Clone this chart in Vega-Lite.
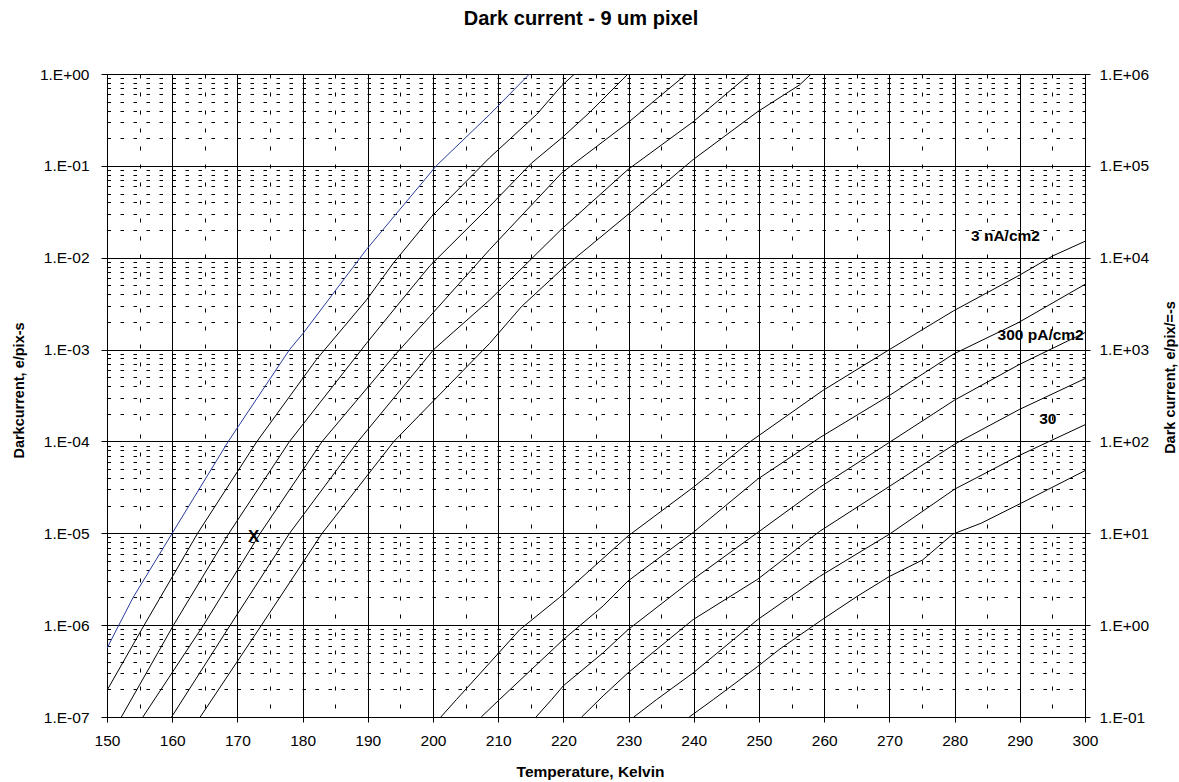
{
  "$schema": "https://vega.github.io/schema/vega-lite/v6.json",
  "width": 978,
  "height": 643,
  "autosize": {"type": "none"},
  "padding": {"left": 107, "top": 74, "right": 94, "bottom": 65},
  "background": "white",
  "config": {
    "font": "Liberation Sans",
    "view": {"stroke": "black", "strokeWidth": 1},
    "axis": {
      "labelFont": "Liberation Sans",
      "labelFontSize": 15.5,
      "labelColor": "black",
      "tickColor": "black",
      "domainColor": "black",
      "gridColor": "black",
      "gridOpacity": 1,
      "gridWidth": 1,
      "titleFont": "Liberation Sans",
      "titleFontSize": 14.5,
      "titleFontWeight": "bold",
      "titleColor": "black"
    }
  },
  "title": {
    "text": "Dark current - 9 um pixel",
    "font": "Liberation Sans",
    "fontSize": 20,
    "fontWeight": "bold",
    "color": "black",
    "anchor": "middle",
    "frame": "group",
    "baseline": "alphabetic",
    "dx": -15,
    "offset": 22
  },
  "datasets": {
    "steep": [
      {"curve": "a0", "temp": 150, "rate": 5.62e-7},
      {"curve": "a0", "temp": 154, "rate": 2.0e-6},
      {"curve": "a0", "temp": 160, "rate": 1.0e-5},
      {"curve": "a0", "temp": 168.6, "rate": 1.0e-4},
      {"curve": "a0", "temp": 178, "rate": 1.0e-3},
      {"curve": "a0", "temp": 180.1, "rate": 1.51e-3},
      {"curve": "a0", "temp": 189.8, "rate": 1.23e-2},
      {"curve": "a0", "temp": 200.5, "rate": 0.1},
      {"curve": "a0", "temp": 208.7, "rate": 0.363},
      {"curve": "a0", "temp": 214.8, "rate": 1.0},

      {"curve": "a1", "temp": 150, "rate": 1.95e-7},
      {"curve": "a1", "temp": 155.7, "rate": 1e-6},
      {"curve": "a1", "temp": 163.9, "rate": 1e-5},
      {"curve": "a1", "temp": 173, "rate": 1e-4},
      {"curve": "a1", "temp": 182.1, "rate": 7.76e-4},
      {"curve": "a1", "temp": 189.8, "rate": 3.47e-3},
      {"curve": "a1", "temp": 193.9, "rate": 8.71e-3},
      {"curve": "a1", "temp": 199.8, "rate": 2.82e-2},
      {"curve": "a1", "temp": 208.7, "rate": 0.123},
      {"curve": "a1", "temp": 215.9, "rate": 0.363},
      {"curve": "a1", "temp": 219.7, "rate": 0.741},
      {"curve": "a1", "temp": 221.7, "rate": 1.0},

      {"curve": "a2", "temp": 152.2, "rate": 1e-7},
      {"curve": "a2", "temp": 160.2, "rate": 1e-6},
      {"curve": "a2", "temp": 168.7, "rate": 1e-5},
      {"curve": "a2", "temp": 178, "rate": 1e-4},
      {"curve": "a2", "temp": 189.8, "rate": 1.17e-3},
      {"curve": "a2", "temp": 194.4, "rate": 2.95e-3},
      {"curve": "a2", "temp": 199.5, "rate": 8.13e-3},
      {"curve": "a2", "temp": 208.7, "rate": 3.63e-2},
      {"curve": "a2", "temp": 215.1, "rate": 0.107},
      {"curve": "a2", "temp": 219.7, "rate": 0.2},
      {"curve": "a2", "temp": 224, "rate": 0.38},
      {"curve": "a2", "temp": 229.9, "rate": 1.0},

      {"curve": "a3", "temp": 155.5, "rate": 1e-7},
      {"curve": "a3", "temp": 164.8, "rate": 1e-6},
      {"curve": "a3", "temp": 173.5, "rate": 1e-5},
      {"curve": "a3", "temp": 183, "rate": 1e-4},
      {"curve": "a3", "temp": 194.4, "rate": 9.12e-4},
      {"curve": "a3", "temp": 199.5, "rate": 2.29e-3},
      {"curve": "a3", "temp": 208.7, "rate": 1.23e-2},
      {"curve": "a3", "temp": 219.7, "rate": 8.32e-2},
      {"curve": "a3", "temp": 229.9, "rate": 0.295},
      {"curve": "a3", "temp": 238.9, "rate": 1.0},

      {"curve": "a4", "temp": 159.9, "rate": 1e-7},
      {"curve": "a4", "temp": 168.9, "rate": 1e-6},
      {"curve": "a4", "temp": 178, "rate": 1e-5},
      {"curve": "a4", "temp": 188.5, "rate": 1e-4},
      {"curve": "a4", "temp": 200.1, "rate": 1e-3},
      {"curve": "a4", "temp": 208.7, "rate": 3.47e-3},
      {"curve": "a4", "temp": 219.7, "rate": 2.04e-2},
      {"curve": "a4", "temp": 229.9, "rate": 9.12e-2},
      {"curve": "a4", "temp": 239.9, "rate": 0.302},
      {"curve": "a4", "temp": 248.6, "rate": 1.0},

      {"curve": "a5", "temp": 164.3, "rate": 1e-7},
      {"curve": "a5", "temp": 173.7, "rate": 1e-6},
      {"curve": "a5", "temp": 183, "rate": 1e-5},
      {"curve": "a5", "temp": 194, "rate": 1e-4},
      {"curve": "a5", "temp": 208.7, "rate": 1.17e-3},
      {"curve": "a5", "temp": 213.6, "rate": 2.95e-3},
      {"curve": "a5", "temp": 220, "rate": 7.76e-3},
      {"curve": "a5", "temp": 229.9, "rate": 2.95e-2},
      {"curve": "a5", "temp": 239.9, "rate": 0.117},
      {"curve": "a5", "temp": 249.8, "rate": 0.389},
      {"curve": "a5", "temp": 256.2, "rate": 0.759},
      {"curve": "a5", "temp": 258, "rate": 1.0}
    ],
    "shallow": [
      {"curve": "b0", "temp": 201.2, "rate": 0.1},
      {"curve": "b0", "temp": 203.6, "rate": 0.155},
      {"curve": "b0", "temp": 213.3, "rate": 0.891},
      {"curve": "b0", "temp": 219.4, "rate": 2.0},
      {"curve": "b0", "temp": 229.9, "rate": 9.33},
      {"curve": "b0", "temp": 239.9, "rate": 31.6},
      {"curve": "b0", "temp": 248.3, "rate": 95.5},
      {"curve": "b0", "temp": 259.7, "rate": 355},
      {"curve": "b0", "temp": 270, "rate": 1000},
      {"curve": "b0", "temp": 279.8, "rate": 2630},
      {"curve": "b0", "temp": 289.7, "rate": 6310},
      {"curve": "b0", "temp": 295.1, "rate": 10500},
      {"curve": "b0", "temp": 300, "rate": 15100},

      {"curve": "b1", "temp": 207.4, "rate": 0.1},
      {"curve": "b1", "temp": 210.2, "rate": 0.155},
      {"curve": "b1", "temp": 219.95, "rate": 0.692},
      {"curve": "b1", "temp": 226.1, "rate": 1.62},
      {"curve": "b1", "temp": 229.9, "rate": 3.02},
      {"curve": "b1", "temp": 239.9, "rate": 10.2},
      {"curve": "b1", "temp": 249.8, "rate": 38.9},
      {"curve": "b1", "temp": 259.5, "rate": 112},
      {"curve": "b1", "temp": 270, "rate": 316},
      {"curve": "b1", "temp": 279.8, "rate": 891},
      {"curve": "b1", "temp": 289.7, "rate": 1950},
      {"curve": "b1", "temp": 300, "rate": 5130},

      {"curve": "b2", "temp": 215.8, "rate": 0.1},
      {"curve": "b2", "temp": 218.2, "rate": 0.155},
      {"curve": "b2", "temp": 220, "rate": 0.219},
      {"curve": "b2", "temp": 226.1, "rate": 0.501},
      {"curve": "b2", "temp": 229.9, "rate": 0.891},
      {"curve": "b2", "temp": 239.9, "rate": 3.16},
      {"curve": "b2", "temp": 249.8, "rate": 10.2},
      {"curve": "b2", "temp": 259.3, "rate": 31.6},
      {"curve": "b2", "temp": 270, "rate": 97.7},
      {"curve": "b2", "temp": 280, "rate": 282},
      {"curve": "b2", "temp": 290, "rate": 692},
      {"curve": "b2", "temp": 300, "rate": 1530},

      {"curve": "b3", "temp": 222.8, "rate": 0.1},
      {"curve": "b3", "temp": 226.1, "rate": 0.17},
      {"curve": "b3", "temp": 229.9, "rate": 0.302},
      {"curve": "b3", "temp": 239.9, "rate": 1.15},
      {"curve": "b3", "temp": 249.8, "rate": 3.16},
      {"curve": "b3", "temp": 259.3, "rate": 10.5},
      {"curve": "b3", "temp": 270, "rate": 32.4},
      {"curve": "b3", "temp": 280, "rate": 93.3},
      {"curve": "b3", "temp": 290, "rate": 224},
      {"curve": "b3", "temp": 300, "rate": 483},

      {"curve": "b4", "temp": 230.8, "rate": 0.1},
      {"curve": "b4", "temp": 234.3, "rate": 0.155},
      {"curve": "b4", "temp": 239.9, "rate": 0.302},
      {"curve": "b4", "temp": 249.8, "rate": 1.15},
      {"curve": "b4", "temp": 259.3, "rate": 3.39},
      {"curve": "b4", "temp": 270, "rate": 9.77},
      {"curve": "b4", "temp": 280, "rate": 30.2},
      {"curve": "b4", "temp": 290, "rate": 70.8},
      {"curve": "b4", "temp": 300, "rate": 152},

      {"curve": "b5", "temp": 239.3, "rate": 0.1},
      {"curve": "b5", "temp": 243, "rate": 0.155},
      {"curve": "b5", "temp": 249.8, "rate": 0.355},
      {"curve": "b5", "temp": 253.2, "rate": 0.55},
      {"curve": "b5", "temp": 259.7, "rate": 1.15},
      {"curve": "b5", "temp": 265.2, "rate": 2.09},
      {"curve": "b5", "temp": 270, "rate": 3.39},
      {"curve": "b5", "temp": 275.1, "rate": 5.13},
      {"curve": "b5", "temp": 279.7, "rate": 9.77},
      {"curve": "b5", "temp": 284.1, "rate": 12.9},
      {"curve": "b5", "temp": 289.7, "rate": 20.4},
      {"curve": "b5", "temp": 300, "rate": 48.1}
    ],
    "marker": [
      {"temp": 172.5, "rate": 9.1e-6, "label": "X"}
    ],
    "curveLabels": [
      {"temp": 287.8, "rate": 17200, "label": "3 nA/cm2"},
      {"temp": 293.2, "rate": 1456, "label": "300 pA/cm2"},
      {"temp": 294.3, "rate": 177, "label": "30"}
    ]
  },
  "encoding": {
    "x": {
      "field": "temp",
      "type": "quantitative",
      "scale": {"domain": [150, 300], "nice": false, "zero": false},
      "axis": {
        "values": [150, 155, 160, 165, 170, 175, 180, 185, 190, 195, 200, 205, 210, 215, 220, 225, 230, 235, 240, 245, 250, 255, 260, 265, 270, 275, 280, 285, 290, 295, 300],
        "labelExpr": "datum.value % 10 == 0 ? datum.label : ''",
        "labelOverlap": false,
        "labelFlush": false,
        "labelPadding": 11,
        "grid": true,
        "gridDash": {"condition": {"test": "datum.value % 10 != 0", "value": [4, 14]}, "value": []},
        "tickSize": {"condition": {"test": "datum.value % 10 != 0", "value": 0}, "value": 5},
        "title": "Temperature, Kelvin",
        "titleFontSize": 15.5,
        "titleX": 483,
        "titleY": 59,
        "titleAlign": "center",
        "titleBaseline": "alphabetic"
      }
    }
  },
  "resolve": {"scale": {"y": "independent"}},
  "layer": [
    {
      "data": {"name": "steep"},
      "mark": {"type": "line", "strokeWidth": 1, "clip": true},
      "encoding": {
        "y": {
          "field": "rate",
          "type": "quantitative",
          "scale": {"type": "log", "domain": [1e-7, 1], "nice": false},
          "axis": {
            "orient": "left",
            "values": [1e-7, 2e-7, 3e-7, 4e-7, 5e-7, 6e-7, 7e-7, 8e-7, 9e-7,
                       1e-6, 2e-6, 3e-6, 4e-6, 5e-6, 6e-6, 7e-6, 8e-6, 9e-6,
                       1e-5, 2e-5, 3e-5, 4e-5, 5e-5, 6e-5, 7e-5, 8e-5, 9e-5,
                       1e-4, 2e-4, 3e-4, 4e-4, 5e-4, 6e-4, 7e-4, 8e-4, 9e-4,
                       1e-3, 2e-3, 3e-3, 4e-3, 5e-3, 6e-3, 7e-3, 8e-3, 9e-3,
                       1e-2, 2e-2, 3e-2, 4e-2, 5e-2, 6e-2, 7e-2, 8e-2, 9e-2,
                       0.1, 0.2, 0.3, 0.4, 0.5, 0.6, 0.7, 0.8, 0.9, 1],
            "labelExpr": "abs(log(datum.value)/LN10 - round(log(datum.value)/LN10)) > 0.001 ? '' : '1.E' + (round(log(datum.value)/LN10) < 0 ? '-' : '+') + (abs(round(log(datum.value)/LN10)) < 10 ? '0' : '') + abs(round(log(datum.value)/LN10))",
            "labelOverlap": false,
            "labelFlush": false,
            "labelPadding": 12,
            "grid": true,
            "gridDash": {"condition": {"test": "abs(log(datum.value)/LN10 - round(log(datum.value)/LN10)) > 0.001", "value": [3.5, 9.5]}, "value": []},
            "tickSize": {"condition": {"test": "abs(log(datum.value)/LN10 - round(log(datum.value)/LN10)) > 0.001", "value": 0}, "value": 6},
            "title": "Darkcurrent, e/pix-s",
            "titleAngle": -90,
            "titleX": -84,
            "titleY": 316,
            "titleAlign": "center",
            "titleBaseline": "alphabetic"
          }
        },
        "color": {
          "field": "curve",
          "type": "nominal",
          "scale": {"domain": ["a0", "a1", "a2", "a3", "a4", "a5"], "range": ["#2a3c9e", "#000000", "#000000", "#000000", "#000000", "#000000"]},
          "legend": null
        }
      }
    },
    {
      "data": {"name": "marker"},
      "mark": {"type": "text", "font": "Liberation Sans", "fontSize": 17, "fontWeight": "bold", "color": "black", "align": "center", "baseline": "middle"},
      "encoding": {
        "y": {"field": "rate", "type": "quantitative", "scale": {"type": "log", "domain": [1e-7, 1], "nice": false}, "axis": null},
        "text": {"field": "label"}
      }
    },
    {
      "data": {"name": "shallow"},
      "mark": {"type": "line", "strokeWidth": 1, "color": "black", "clip": true},
      "encoding": {
        "y": {
          "field": "rate",
          "type": "quantitative",
          "scale": {"type": "log", "domain": [0.1, 1000000], "nice": false},
          "axis": {
            "orient": "right",
            "values": [0.1, 1, 10, 100, 1000, 10000, 100000, 1000000],
            "labelExpr": "'1.E' + (round(log(datum.value)/LN10) < 0 ? '-' : '+') + (abs(round(log(datum.value)/LN10)) < 10 ? '0' : '') + abs(round(log(datum.value)/LN10))",
            "labelOverlap": false,
            "labelFlush": false,
            "labelPadding": 9,
            "tickSize": 5,
            "grid": false,
            "title": "Dark current, e/pix/=-s",
            "titleAngle": -90,
            "titleX": 89,
            "titleY": 303,
            "titleAlign": "center",
            "titleBaseline": "alphabetic"
          }
        },
        "detail": {"field": "curve"}
      }
    },
    {
      "data": {"name": "curveLabels"},
      "mark": {"type": "text", "font": "Liberation Sans", "fontSize": 15.5, "fontWeight": "bold", "color": "black", "align": "center", "baseline": "middle"},
      "encoding": {
        "y": {"field": "rate", "type": "quantitative", "scale": {"type": "log", "domain": [0.1, 1000000], "nice": false}, "axis": null},
        "text": {"field": "label"}
      }
    }
  ]
}
